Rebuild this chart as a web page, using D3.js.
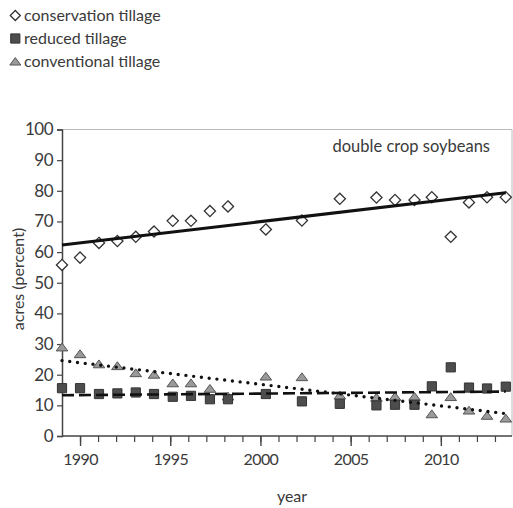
<!DOCTYPE html>
<html>
<head>
<meta charset="utf-8">
<script src="https://cdn.jsdelivr.net/npm/d3@7"></script>
<style>
  html, body { margin: 0; padding: 0; background: #fff; }
  svg text { font-family: Lato, "Noto Sans", sans-serif; fill: #3a3a3a; }
</style>
</head>
<body>
<svg id="chart" width="513" height="508"></svg>
<script>
// ---- data ----
const years = [1989.0, 1990.0, 1991.05, 1992.07, 1993.09, 1994.1, 1995.14, 1996.15, 1997.2, 1998.2,
               2000.3, 2002.3, 2004.4, 2006.43, 2007.46, 2008.54, 2009.5, 2010.55, 2011.56, 2012.56, 2013.6];
const conservation = [55.8, 58.2, 63.0, 63.6, 65.0, 66.7, 70.2, 70.2, 73.4, 74.9,
                      67.4, 70.3, 77.4, 77.8, 77.0, 77.0, 77.9, 65.0, 76.2, 77.9, 77.9];
const reduced = [15.6, 15.6, 13.7, 13.9, 14.2, 13.7, 12.8, 13.1, 12.0, 12.0,
                 13.7, 11.3, 10.5, 10.0, 10.2, 10.2, 16.2, 22.4, 15.8, 15.5, 16.1];
const conventional = [28.8, 26.6, 23.3, 22.7, 20.4, 19.9, 17.1, 17.1, 15.3, 12.8,
                      19.3, 19.1, 13.1, 12.4, 12.7, 12.7, 7.0, 12.6, 8.2, 6.5, 5.6];
// trend lines: [year, value] end points
const conservationTrend = [[1989.0, 62.3], [2013.6, 79.4]];
const reducedTrend = [[1989.0, 13.3], [2013.6, 14.5]];
const conventionalTrend = [[1989.0, 24.6], [2013.6, 7.3]];
const yTicks = [0, 10, 20, 30, 40, 50, 60, 70, 80, 90, 100];
const xMajorTicks = [1990, 1995, 2000, 2005, 2010];
const xMinorTicks = d3.range(1990, 2014);
const legendLabels = ["conservation tillage", "reduced tillage", "conventional tillage"];
const annotation = "double crop soybeans";
const xTitle = "year";
const yTitle = "acres (percent)";

// ---- layout ----
const svg = d3.select("#chart");
const L = 62, R = 512, T = 129.5, B = 436;
const x = d3.scaleLinear().domain([1989, 2014]).range([L, R + 1]);
const y = d3.scaleLinear().domain([0, 100]).range([B, T]);
const axisColor = "#444";

// frame (top/right light)
svg.append("line").attr("x1", L).attr("x2", R).attr("y1", T).attr("y2", T)
  .attr("stroke", "#bbb").attr("stroke-width", 1);
svg.append("line").attr("x1", R).attr("x2", R).attr("y1", T).attr("y2", B)
  .attr("stroke", "#bbb").attr("stroke-width", 1);

// y axis
const yAxis = d3.axisLeft(y).tickValues(yTicks).tickSize(5).tickPadding(4).tickFormat(d3.format("d"));
const gy = svg.append("g").attr("transform", `translate(${L},0)`).call(yAxis);
gy.select(".domain").attr("stroke", axisColor).attr("stroke-width", 1.5);
gy.selectAll(".tick line").attr("stroke", axisColor).attr("stroke-width", 1.2);
gy.selectAll(".tick text").style("font-size", "17px").style("letter-spacing", "-0.5px")
  .attr("fill", "#3a3a3a").style("font-family", "Lato, sans-serif");

// x axis minor ticks
const xMinor = d3.axisBottom(x).tickValues(xMinorTicks).tickSize(6).tickFormat("");
const gxm = svg.append("g").attr("transform", `translate(0,${B})`).call(xMinor);
gxm.select(".domain").remove();
gxm.selectAll(".tick line").attr("stroke", axisColor).attr("stroke-width", 1.2);
// x axis major
const xAxis = d3.axisBottom(x).tickValues(xMajorTicks).tickSize(10).tickPadding(8).tickFormat(d3.format("d"));
const gx = svg.append("g").attr("transform", `translate(0,${B})`).call(xAxis);
gx.select(".domain").remove();
gx.selectAll(".tick line").attr("stroke", axisColor).attr("stroke-width", 1.4);
gx.selectAll(".tick text").style("font-size", "16px").style("letter-spacing", "-0.6px")
  .attr("fill", "#3a3a3a").style("font-family", "Lato, sans-serif");
svg.append("line").attr("x1", L).attr("x2", R).attr("y1", B).attr("y2", B)
  .attr("stroke", axisColor).attr("stroke-width", 1.5);

// titles
svg.append("text").attr("x", 292).attr("y", 502).attr("text-anchor", "middle")
  .style("font-size", "16px").text(xTitle);
svg.append("text").attr("transform", `translate(24,${279}) rotate(-90)`).attr("text-anchor", "middle")
  .style("font-size", "16px").text(yTitle);
svg.append("text").attr("x", 490).attr("y", 152).attr("text-anchor", "end")
  .style("font-size", "16.5px").text(annotation);

// marker paths
const diamond = (cx, cy, r) => `M${cx},${cy - r}L${cx + r},${cy}L${cx},${cy + r}L${cx - r},${cy}Z`;
const square = (cx, cy, s) => `M${cx - s},${cy - s}h${2 * s}v${2 * s}h${-2 * s}Z`;
const triangle = (cx, cy, w) => `M${cx},${cy - w * 0.8}L${cx + w},${cy + w * 0.55}L${cx - w},${cy + w * 0.55}Z`;

const pts = (vals) => years.map((yr, i) => ({ yr, v: vals[i] }));

// triangles
svg.append("g").selectAll("path").data(pts(conventional)).join("path")
  .attr("d", d => triangle(x(d.yr), y(d.v), 5.8))
  .attr("fill", "#9a9a9a").attr("stroke", "#555").attr("stroke-width", 1);
// squares
svg.append("g").selectAll("path").data(pts(reduced)).join("path")
  .attr("d", d => square(x(d.yr), y(d.v), 4.6))
  .attr("fill", "#4d4d4d").attr("stroke", "#333").attr("stroke-width", 1);
// diamonds
svg.append("g").selectAll("path").data(pts(conservation)).join("path")
  .attr("d", d => diamond(x(d.yr), y(d.v), 5.6))
  .attr("fill", "#fff").attr("stroke", "#333").attr("stroke-width", 1.3);

// trend lines
const line = d3.line().x(d => x(d[0])).y(d => y(d[1]));
svg.append("path").attr("d", line(conservationTrend)).attr("fill", "none")
  .attr("stroke", "#111").attr("stroke-width", 3);
svg.append("path").attr("d", line(reducedTrend)).attr("fill", "none")
  .attr("stroke", "#111").attr("stroke-width", 2.6).attr("stroke-dasharray", "12,5");
svg.append("path").attr("d", line(conventionalTrend)).attr("fill", "none")
  .attr("stroke", "#111").attr("stroke-width", 3.4).attr("stroke-linecap", "round")
  .attr("stroke-dasharray", "0,7.8");

// legend
const lg = svg.append("g");
const rows = [15.5, 38.5, 61.5];
lg.append("path").attr("d", diamond(15.3, rows[0], 5)).attr("fill", "#fff").attr("stroke", "#333").attr("stroke-width", 1.3);
lg.append("path").attr("d", square(15.3, rows[1], 4.6)).attr("fill", "#4d4d4d").attr("stroke", "#333");
lg.append("path").attr("d", triangle(15.3, rows[2] + 0.5, 5.5)).attr("fill", "#9a9a9a").attr("stroke", "#555");
lg.selectAll("text").data(legendLabels).join("text")
  .attr("x", 24).attr("y", (d, i) => rows[i] + 5.5)
  .style("font-size", "16px").text(d => d);
</script>
</body>
</html>
